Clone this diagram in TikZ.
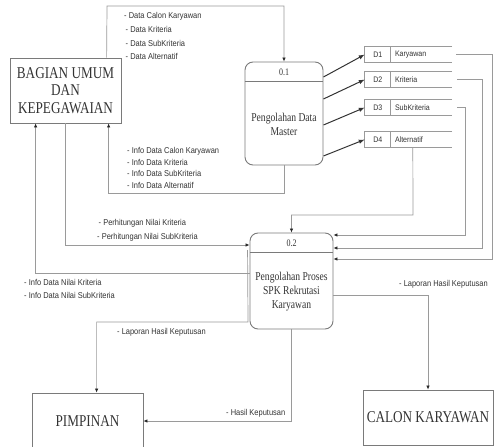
\documentclass[tikz,border=0pt]{standalone}
\usepackage{fontspec}
\setmainfont[FakeStretch=0.8]{Liberation Serif}
\newfontfamily\lblfont[FakeStretch=0.88]{Liberation Sans}
\usetikzlibrary{arrows.meta,calc}
\definecolor{ln}{HTML}{9A9A9A}
\definecolor{bx}{HTML}{7A7A7A}
\definecolor{tx}{HTML}{333333}
\begin{document}
\begin{tikzpicture}[x=1pt,y=-1pt,
  ext/.style={draw=bx, line width=0.8pt, inner sep=0pt, align=center, text=tx,
    font=\fontsize{16.5}{17.5}\selectfont},
  proc/.style={draw=bx, line width=0.9pt, rounded corners=8pt, inner sep=0pt},
  procline/.style={draw=bx, line width=0.9pt},
  ptitle/.style={inner sep=0pt, text=tx, font=\fontsize{10}{11}\selectfont},
  ptext/.style={inner sep=0pt, text=tx, align=center, font=\fontsize{12}{14}\selectfont},
  store/.style={minimum width=87pt, minimum height=15pt, inner sep=0pt},
  storeline/.style={draw=ln, line width=0.7pt},
  sid/.style={inner sep=0pt, text=tx, font=\lblfont\fontsize{8}{9}\selectfont},
  sname/.style={inner sep=0pt, anchor=west, text=tx, font=\lblfont\fontsize{8}{9}\selectfont},
  flow/.style={draw=ln, line width=0.7pt, -{Latex[length=4pt,width=3.5pt,color=black!85]}},
  darrow/.style={draw=black!80, line width=1pt, -{Latex[length=6pt,width=4.5pt]}},
  lab/.style={inner sep=0pt, anchor=north west, align=left, text=tx}
]
\useasboundingbox (0,0) rectangle (494,446);

% external entities
\node[ext, minimum width=111pt, minimum height=65pt] (bag) at (65.5,90.5) {BAGIAN UMUM\\DAN\\KEPEGAWAIAN};
\node[ext, minimum width=111pt, minimum height=56pt] (pim) at (87.5,421) {PIMPINAN};
\node[ext, minimum width=130pt, minimum height=55pt] (cal) at (428,417.5) {CALON KARYAWAN};

% processes
\node[proc, minimum width=78pt, minimum height=103pt] (p1) at (284,113.5) {};
\draw[procline] ($(p1.north west)+(0,20)$) -- ($(p1.north east)+(0,20)$);
\node[ptitle] (p1id) at (284,72) {0.1};
\node[ptext] (p1txt) at (284,124) {Pengolahan Data\\Master};

\node[proc, minimum width=83pt, minimum height=96pt] (p2) at (291.5,281) {};
\draw[procline] ($(p2.north west)+(0,20)$) -- ($(p2.north east)+(0,20)$);
\node[ptitle] (p2id) at (291.5,243) {0.2};
\node[ptext] (p2txt) at (291.5,291.5) {Pengolahan Proses\\SPK Rekrutasi\\Karyawan};

% data stores
\foreach \n/\y/\id/\nm in {d1/54.5/D1/Karyawan, d2/79.5/D2/Kriteria, d3/107.5/D3/SubKriteria, d4/139.5/D4/Alternatif}{
  \node[store] (\n) at (408.5,\y) {};
  \draw[storeline] (\n.north east) -- (\n.north west) -- (\n.south west) -- (\n.south east);
  \draw[storeline] ($(\n.north west)+(26,0)$) -- ($(\n.south west)+(26,0)$);
  \node[sid] (\n id) at ($(\n.west)+(13,0)$) {\id};
  \node[sname] (\n nm) at ($(\n.west)+(30,0)$) {\nm};
}

% process 0.1 to data stores
\draw[darrow] (p1.east |- 0,77) -- (d1.west);
\draw[darrow] (p1.east |- 0,99) -- (d2.west);
\draw[darrow] (p1.east |- 0,125) -- (d3.west);
\draw[darrow] (p1.east |- 0,156) -- (d4.west);

% data stores to process 0.2
\draw[flow] ($(d1.east)+(4,0)$) -- (492,54.5) |- (p2.east |- 0,259);
\draw[flow] ($(d2.east)+(5,0)$) -| (482,248) -- (p2.east |- 0,248);
\draw[flow] ($(d3.east)+(5,0)$) -| (465,235) -- (p2.east |- 0,235);
\draw[flow] ($(d4.south west)+(48,0)$) -- (413,215) -| (p2.north);

% left side flows
\draw[flow] ($(bag.north west)+(97,0)$) -- (107,6) -| (p1.north);
\draw[flow] (p1.south) -- (284,193) -| ($(bag.south west)+(99,0)$);
\draw[flow] (bag.south) |- (p2.west |- 0,245);
\draw[flow] (p2.west |- 0,273) -| ($(bag.south west)+(26,0)$);
\draw[flow] ($(p2.west)+(-2,-31)$) -- (248,322) -| ($(pim.north west)+(65,0)$);
\draw[flow] (p2.south) |- (pim.east);
\draw[flow] (p2.east |- 0,295) -| (cal.north);

% labels
\node[lab, font=\lblfont\fontsize{8.5}{13.7}\selectfont] (l1) at (124,12.5)
  {- Data Calon Karyawan\\\hspace{1.5pt}- Data Kriteria\\\hspace{1.5pt}- Data SubKriteria\\\hspace{1.5pt}- Data Alternatif};
\node[lab, font=\lblfont\fontsize{8.5}{11.4}\selectfont] (l2) at (127,147.5)
  {- Info Data Calon Karyawan\\- Info Data Kriteria\\- Info Data SubKriteria\\- Info Data Alternatif};
\node[lab, font=\lblfont\fontsize{8.5}{14}\selectfont] (l3) at (97,219.5)
  {\hspace{1.5pt}- Perhitungan Nilai Kriteria\\- Perhitungan Nilai SubKriteria};
\node[lab, font=\lblfont\fontsize{8.5}{12.5}\selectfont] (l4) at (24,279.5)
  {- Info Data Nilai Kriteria\\- Info Data Nilai SubKriteria};
\node[lab, font=\lblfont\fontsize{8.5}{10}\selectfont] (l5) at (117,328.5) {- Laporan Hasil Keputusan};
\node[lab, font=\lblfont\fontsize{8.5}{10}\selectfont] (l6) at (226,409.5) {- Hasil Keputusan};
\node[lab, font=\lblfont\fontsize{8.5}{10}\selectfont] (l7) at (399,280.5) {- Laporan Hasil Keputusan};
\end{tikzpicture}
\end{document}
